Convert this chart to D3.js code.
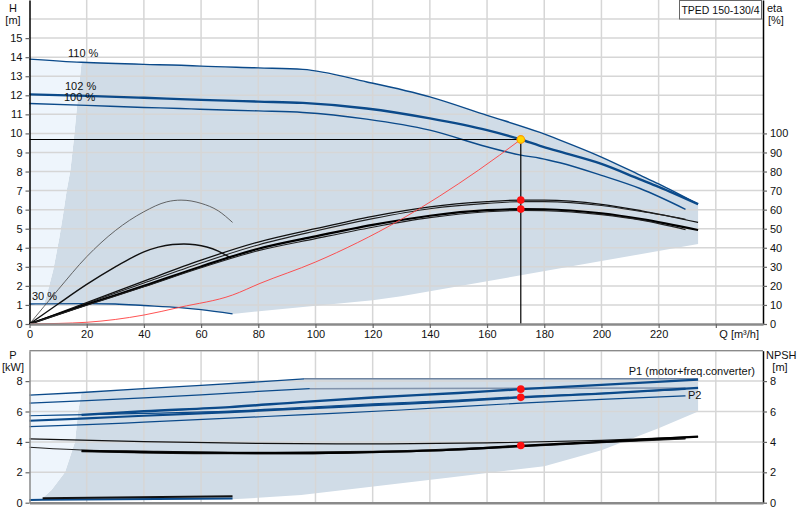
<!DOCTYPE html>
<html>
<head>
<meta charset="utf-8">
<script src="https://cdn.jsdelivr.net/npm/d3@7"></script>
<style>
body { margin: 0; background: #fff; }
svg text { font-family: "Liberation Sans", Arial, sans-serif; font-size: 11px; fill: #111; }
</style>
</head>
<body>
<svg id="chart" width="800" height="520"></svg>
<script>
// ---- data ----
var qTicks = [0, 20, 40, 60, 80, 100, 120, 140, 160, 180, 200, 220];
var qGrid = [20, 40, 60, 80, 100, 120, 140, 160, 180, 200, 220, 240];
var hTicks = [0, 1, 2, 3, 4, 5, 6, 7, 8, 9, 10, 11, 12, 13, 14, 15];
var hGrid = [1, 2, 3, 4, 5, 6, 7, 8, 9, 10, 11, 12, 13, 14, 15, 16];
var etaTicks = [0, 10, 20, 30, 40, 50, 60, 70, 80, 90, 100];
var pTicks = [0, 2, 4, 6, 8];
var pGrid = [2, 4, 6, 8, 10];

// head curves [Q m3/h, H m]
var head110 = [[0,13.9],[18.2,13.73],[40,13.62],[53,13.58],[60,13.53],[80,13.44],[95.6,13.36],[118,12.7],[140,11.92],[160,10.95],[178.5,10.05],[185.5,9.65],[200,8.76],[213.5,7.81],[220,7.35],[233.8,6.29]];
var head102 = [[0,12.05],[20,11.97],[40,11.87],[52.7,11.8],[60,11.76],[80,11.67],[95.6,11.6],[117.9,11.31],[140,10.79],[160,10.17],[171.8,9.68],[178.5,9.35],[185.5,9.04],[200,8.4],[213.5,7.59],[220,7.2],[233.8,6.29]];
var head100 = [[0,11.57],[20,11.47],[40,11.36],[52.7,11.31],[59.6,11.27],[80,11.18],[95.6,11.1],[117.9,10.75],[140,10.17],[159.9,9.3],[171.8,8.86],[178.5,8.7],[185.5,8.46],[200,7.8],[213.5,7.11],[229.4,6.02]];
var head30 = [[0,1.05],[5.1,1.06],[20,1.07],[30,1.05],[40,0.97],[52.6,0.86],[60,0.75],[71,0.53]];
var minFlowH = [[5.1,1.06],[6,1.5],[8.3,2.83],[10.4,4.5],[11.7,5.7],[13,7.0],[14.3,8.07],[15.5,9.7],[16.6,11.4],[17.5,12.7],[18.2,13.73]];
var headLowerBound = [[233.8,6.29],[233.8,4.2],[200,3.3],[130,1.45],[120,1.25],[71,0.53]];
var systemCurve = [[0,0],[10,0.03],[20,0.09],[40,0.47],[52.6,0.88],[71,1.52],[80.6,2.13],[100,3.25],[129.5,5.45],[157,8.07],[171.8,9.68]];

// efficiency curves [Q, eta %]
var etaA = [[0,0],[20,11.2],[40,22.5],[60,33.5],[80,43],[100,50],[120,56.5],[140,61.5],[160,64.2],[172,65],[180,65],[200,62.8],[214,59.4],[233.8,53.3]];
var etaB = [[0,0],[20,10.8],[40,21.5],[60,32],[80,41.5],[100,48.8],[120,55.3],[140,60.5],[160,63.3],[172,64.2],[180,64.2],[200,62.2],[214,59],[229.4,55]];
var etaC = [[0,0],[20,10.2],[40,20],[60,30.2],[80,39.5],[100,46],[120,52],[140,56.8],[160,59.7],[172,60.3],[180,60.2],[200,58],[214,55],[233.8,49.3]];
var etaD = [[0,0],[20,9.8],[40,19.5],[60,29.5],[80,38.5],[100,44.8],[120,50.8],[140,55.8],[160,58.9],[172,59.6],[180,59.5],[200,57.4],[214,54.5],[229.4,49.5]];
var eta30a = [[0,0],[10,18],[20,35.3],[30,49],[40,58.9],[48,64.1],[53,65],[60,63.3],[66,59.4],[71,53.3]];
var eta30b = [[0,0],[10,10.5],[20,20.8],[30,30],[36,35],[40,37.8],[45,40.3],[50,41.7],[54,42],[58,41.6],[62,40.4],[66,38.2],[70,35]];

// power curves [Q, P kW]
var pMax = [[0,7.08],[18.2,7.25],[40,7.5],[60,7.72],[80,7.95],[96,8.15]];
var pCap = [[96,8.15],[233.8,8.15]];
var pB = [[0,6.55],[20,6.72],[40,6.9],[60,7.1],[80,7.32],[98,7.5]];
var pBCap = [[98,7.5],[229.4,7.55]];
var p1Duty = [[18.2,5.78],[40,6.02],[70,6.29],[94.6,6.62],[120,6.92],[150,7.22],[171.8,7.47],[200,7.75],[233.8,8.1]];
var p2Duty = [[0,5.39],[20,5.55],[40,5.72],[70,5.96],[94.6,6.18],[120,6.42],[150,6.68],[171.8,6.92],[200,7.18],[233.8,7.55]];
var pE = [[0,5.72],[20,5.8],[40,5.88],[70,6.02],[94.6,6.26],[120,6.5],[150,6.75],[171.8,6.98],[200,7.2],[229.4,7.45]];
var p2Low = [[0,5.01],[20,5.13],[40,5.3],[70,5.56],[94.6,5.78],[130,6.1],[171.8,6.55],[200,6.8],[229.4,7.03]];
var p30 = [[0,0.18],[4.6,0.19],[71,0.27]];
var minFlowP = [[4.6,0.19],[4.8,0.35],[7.7,0.83],[12.4,2.0],[15.9,4.0],[17,6.0],[18.2,7.25]];
var powerLowerBound = [[233.8,8.15],[233.8,6.0],[220,4.9],[200,3.45],[180,2.4],[147,1.65],[95,0.5],[71,0.22]];

// NPSH curves [Q, m]
var npshA = [[0,4.2],[40,4.02],[80,3.9],[120,3.87],[160,3.93],[200,4.1],[233.8,4.35]];
var npshB = [[0,3.65],[18.2,3.47],[40,3.4],[80,3.32],[120,3.38],[171.8,3.74],[200,3.98],[229.4,4.22]];
var npshC = [[18.2,3.42],[40,3.33],[70,3.27],[95,3.26],[120,3.33],[150,3.5],[171.8,3.74],[200,4.0],[233.8,4.35]];
var npshD = [[18.2,3.36],[40,3.28],[70,3.22],[95,3.22],[120,3.3],[150,3.47],[171.8,3.68],[200,3.95],[229.4,4.2]];
var npsh30 = [[4.6,0.3],[71,0.42]];

// duty point
var dutyQ = 171.8, dutyH = 9.68;
var dutyEta = [65, 60.3];
var dutyP = [7.47, 6.93];
var dutyNpsh = 3.76;

// ---- drawing ----
var svg = d3.select('#chart');
var blue = '#0b4a8a', shade = '#d0dce7', light = '#eef5fc', grid = '#d6d6d6';

var x = d3.scaleLinear().domain([0, 256.5]).range([29.5, 763]);
var yH = d3.scaleLinear().domain([0, 17]).range([324, 0]);
var yEta = d3.scaleLinear().domain([0, 170]).range([324, 0]);
var yP = d3.scaleLinear().domain([0, 10]).range([502.7, 350.7]);

function lineFor(y, curve) {
	return d3.line().x(function(d) { return x(d[0]); }).y(function(d) { return y(d[1]); }).curve(curve || d3.curveLinear);
}
function area(g, pts, y, fill) {
	g.append('path').attr('d', lineFor(y)(pts) + 'Z').attr('fill', fill).attr('stroke', 'none');
}
function curve(g, pts, y, color, width, smooth) {
	g.append('path').attr('d', lineFor(y, smooth === false ? d3.curveLinear : d3.curveMonotoneX)(pts))
		.attr('fill', 'none').attr('stroke', color).attr('stroke-width', width)
		.attr('stroke-linejoin', 'round');
}
function between(pts, a, b) { return pts.filter(function(d) { return d[0] >= a && d[0] <= b; }); }

// shaded operating ranges (top)
var topG = svg.append('g');
area(topG, between(head110, 18.2, 240).concat(headLowerBound, between(head30, 5.1, 70.9).reverse(), minFlowH), yH, shade);
area(topG, between(head110, 0, 18.2).concat(minFlowH.slice().reverse(), [[0, head30[0][1]]]), yH, light);

// shaded operating ranges (bottom)
var botG = svg.append('g');
area(botG, between(pMax, 18.2, 240).concat(pCap, powerLowerBound, between(p30, 4.6, 70.9).reverse(), minFlowP), yP, shade);
area(botG, between(pMax, 0, 18.2).concat(minFlowP.slice().reverse(), [[0, p30[0][1]]]), yP, light);

// grids
var gridG = svg.append('g').attr('stroke', grid).attr('stroke-width', 1.5);
qGrid.forEach(function(q) {
	gridG.append('line').attr('x1', x(q)).attr('x2', x(q)).attr('y1', yH(17)).attr('y2', yH(0));
	gridG.append('line').attr('x1', x(q)).attr('x2', x(q)).attr('y1', yP(10)).attr('y2', yP(0));
});
hGrid.forEach(function(h) {
	gridG.append('line').attr('x1', x(0)).attr('x2', x(256.5)).attr('y1', yH(h)).attr('y2', yH(h));
});
pGrid.forEach(function(p) {
	gridG.append('line').attr('x1', x(0)).attr('x2', x(256.5)).attr('y1', yP(p)).attr('y2', yP(p));
});
svg.append('line').attr('x1', x(0)).attr('x2', x(256.5)).attr('y1', yP(10)).attr('y2', yP(10))
	.attr('stroke', '#8a8a8a').attr('stroke-width', 1.2);

// top curves
var curvesTop = svg.append('g');
curve(curvesTop, head30, yH, blue, 1.3);
curve(curvesTop, head110, yH, blue, 1.4);
curve(curvesTop, head100, yH, blue, 1.4);
curve(curvesTop, head102, yH, blue, 2.4);
curve(curvesTop, eta30a, yEta, '#555', 0.9);
curve(curvesTop, eta30b, yEta, '#111', 1.4);
curve(curvesTop, etaA, yEta, '#111', 1.3);
curve(curvesTop, etaB, yEta, '#222', 1.1);
curve(curvesTop, etaC, yEta, '#000', 2.2);
curve(curvesTop, etaD, yEta, '#222', 1.1);
curve(curvesTop, systemCurve, yH, '#ff4040', 0.9);

// bottom curves
var curvesBot = svg.append('g');
curve(curvesBot, pCap, yP, '#6f84a0', 1.5, false);
curve(curvesBot, pBCap, yP, '#8294ad', 1.5, false);
curve(curvesBot, pMax, yP, blue, 1.3, false);
curve(curvesBot, pB, yP, blue, 1.3, false);
curve(curvesBot, p2Low, yP, blue, 1.2);
curve(curvesBot, pE, yP, blue, 1.2);
curve(curvesBot, p2Duty, yP, blue, 2.2);
curve(curvesBot, p1Duty, yP, blue, 2.4);
curve(curvesBot, p30, yP, blue, 2, false);
curve(curvesBot, npshA, yP, '#111', 1.2);
curve(curvesBot, npshB, yP, '#222', 1.1);
curve(curvesBot, npshD, yP, '#222', 1.1);
curve(curvesBot, npshC, yP, '#000', 2.2);
curve(curvesBot, npsh30, yP, '#111', 2, false);

// duty point lines
svg.append('line').attr('x1', x(0)).attr('x2', x(dutyQ)).attr('y1', yH(dutyH)).attr('y2', yH(dutyH))
	.attr('stroke', '#000').attr('stroke-width', 1.2);
svg.append('line').attr('x1', x(dutyQ)).attr('x2', x(dutyQ)).attr('y1', yH(dutyH)).attr('y2', yH(0))
	.attr('stroke', '#000').attr('stroke-width', 1.2);

// axes
function styleAxis(g, domainColor, domainWidth) {
	g.select('.domain').attr('stroke', domainColor).attr('stroke-width', domainWidth);
	g.selectAll('.tick line').attr('stroke', '#666').attr('stroke-width', 1.2);
	g.selectAll('.tick text').attr('fill', '#111').style('font-size', '11px').style('font-family', '"Liberation Sans", Arial, sans-serif');
}
var axH = svg.append('g').attr('transform', 'translate(' + x(0) + ',0)')
	.call(d3.axisLeft(yH).tickValues(hTicks).tickSize(4).tickSizeOuter(0).tickPadding(3));
styleAxis(axH, '#000', 1.5);
var axEta = svg.append('g').attr('transform', 'translate(' + x(256.5) + ',0)')
	.call(d3.axisRight(yEta).tickValues(etaTicks).tickSize(4).tickSizeOuter(0).tickPadding(3));
styleAxis(axEta, '#000', 1.5);
var axQ = svg.append('g').attr('transform', 'translate(0,' + yH(0) + ')')
	.call(d3.axisBottom(x).tickValues(qTicks.concat([240])).tickSize(4).tickSizeOuter(0).tickPadding(2)
		.tickFormat(function(d) { return d === 240 ? '' : d; }));
styleAxis(axQ, '#8a8a8a', 2.5);

var axP = svg.append('g').attr('transform', 'translate(' + x(0) + ',0)')
	.call(d3.axisLeft(yP).tickValues(pTicks).tickSize(4).tickSizeOuter(0).tickPadding(3));
styleAxis(axP, '#8a8a8a', 1.5);
var axNpsh = svg.append('g').attr('transform', 'translate(' + x(256.5) + ',0)')
	.call(d3.axisRight(yP).tickValues(pTicks).tickSize(4).tickSizeOuter(0).tickPadding(3));
styleAxis(axNpsh, '#000', 1.5);
var axQ2 = svg.append('g').attr('transform', 'translate(0,' + yP(0) + ')')
	.call(d3.axisBottom(x).tickValues([]).tickSizeOuter(0));
styleAxis(axQ2, '#8a8a8a', 2.5);

// duty point markers
svg.append('circle').attr('cx', x(dutyQ)).attr('cy', yH(dutyH)).attr('r', 3.8)
	.attr('fill', '#ffd700').attr('stroke', '#ff9a00').attr('stroke-width', 1.2);
dutyEta.forEach(function(e) {
	svg.append('circle').attr('cx', x(dutyQ)).attr('cy', yEta(e)).attr('r', 3.8).attr('fill', '#ff1010');
});
dutyP.forEach(function(p) {
	svg.append('circle').attr('cx', x(dutyQ)).attr('cy', yP(p)).attr('r', 3.8).attr('fill', '#ff1010');
});
svg.append('circle').attr('cx', x(dutyQ)).attr('cy', yP(dutyNpsh)).attr('r', 3.8).attr('fill', '#ff1010');

// labels
function label(txt, lx, ly, anchor, color) {
	return svg.append('text').attr('x', lx).attr('y', ly).attr('text-anchor', anchor || 'start')
		.attr('fill', color || '#111').text(txt);
}
label('H', 13, 12, 'middle');
label('[m]', 13, 24, 'middle');
label('eta', 767, 12);
label('[%]', 768, 24);
label('Q [m³/h]', 759, 338, 'end');
label('110 %', 68, 57);
label('102 %', 65, 90);
label('100 %', 64, 101);
label('30 %', 32, 300);
label('P', 13, 359, 'middle');
label('[kW]', 13, 371, 'middle');
label('NPSH', 766, 359);
label('[m]', 780, 371, 'middle');
label('P1 (motor+freq.converter)', 755, 375, 'end', '#1f5a96');
label('P2', 688, 399, 'start', '#1f5a96');

svg.append('rect').attr('x', 679.5).attr('y', 0.5).attr('width', 82).attr('height', 18.5)
	.attr('fill', '#fff').attr('stroke', '#666').attr('stroke-width', 1);
label('TPED 150-130/4', 720.5, 13.5, 'middle').style('font-size', '10.5px');
</script>
</body>
</html>
